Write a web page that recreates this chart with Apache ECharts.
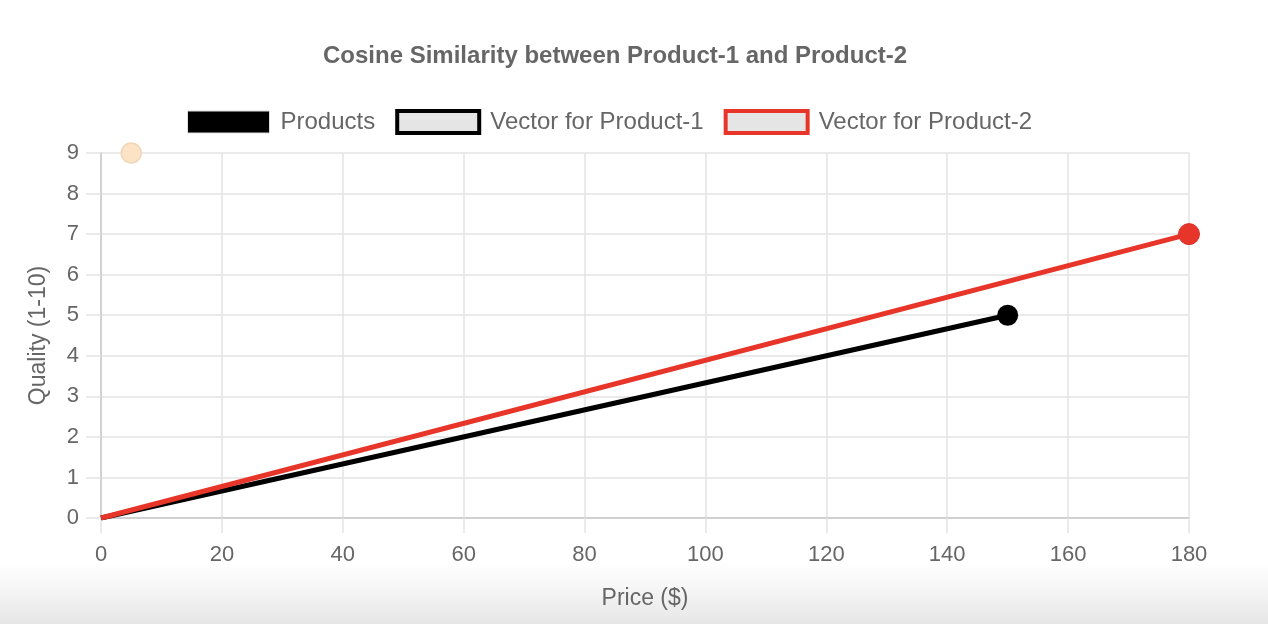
<!DOCTYPE html>
<html>
<head>
<meta charset="utf-8">
<script src="https://cdn.jsdelivr.net/npm/echarts@6/dist/echarts.min.js"></script>
<style>
  html, body { margin: 0; padding: 0; }
  body {
    width: 1268px; height: 624px; overflow: hidden;
    background: linear-gradient(to bottom, #fff 0, #fff 90%, #f4f4f4 95%, #e6e6e6 100%);
  }
  #main { width: 1268px; height: 624px; }
</style>
</head>
<body>
<div id="main"></div>
<script>
// 数据
var seriesNames = ['Products', 'Vector for Product-1', 'Vector for Product-2'];
var productPoints = [[5, 9]];
var vector1 = [[0, 0], [150, 5]];
var vector2 = [[0, 0], [180, 7]];

var font = '"Liberation Sans", Arial, Helvetica, sans-serif';
var gridColor = '#e3e3e3';

// 起点不画圆点
function endOnly(points) {
  return points.map(function (p, i) {
    return i === 0 ? { value: p, symbolSize: 0 } : { value: p };
  });
}

var myChart = echarts.init(document.getElementById('main'));

option = {
  animation: false,
  backgroundColor: 'transparent',
  textStyle: { fontFamily: font },
  title: {
    text: 'Cosine Similarity between Product-1 and Product-2',
    left: 318,
    top: 39,
    textStyle: {
      color: '#666',
      fontSize: 24,
      fontWeight: 'bold',
      fontFamily: font
    }
  },
  legend: {
    top: 104,
    left: 182,
    icon: 'rect',
    itemWidth: 82,
    itemHeight: 22,
    itemGap: 20,
    textStyle: {
      color: '#666',
      fontSize: 24,
      fontFamily: font,
      padding: [0, 0, 0, 6]
    },
    data: [{
      name: seriesNames[0],
      itemStyle: { color: '#000', borderColor: '#ddd', borderWidth: 1, opacity: 1 }
    }, {
      name: seriesNames[1],
      itemStyle: { color: '#e5e5e5', borderColor: '#000', borderWidth: 4, opacity: 1 }
    }, {
      name: seriesNames[2],
      itemStyle: { color: '#e5e5e5', borderColor: '#e8352a', borderWidth: 4, opacity: 1 }
    }]
  },
  grid: {
    left: 101,
    right: 79,
    top: 153,
    bottom: 106
  },
  xAxis: {
    type: 'value',
    min: 0,
    max: 180,
    interval: 20,
    name: 'Price ($)',
    nameLocation: 'middle',
    nameGap: 69,
    nameMoveOverlap: false,
    nameTextStyle: { color: '#666', fontSize: 23, fontFamily: font },
    axisLine: { show: true, lineStyle: { color: '#c8c8c8', width: 1.5 } },
    axisTick: { show: true, length: 15, lineStyle: { color: gridColor, width: 1.5 } },
    axisLabel: { color: '#666', fontSize: 22, margin: 26, fontFamily: font },
    splitLine: { lineStyle: { color: gridColor, width: 1.5 } }
  },
  yAxis: {
    type: 'value',
    min: 0,
    max: 9,
    interval: 1,
    name: 'Quality (1-10)',
    nameLocation: 'middle',
    nameGap: 51,
    nameMoveOverlap: false,
    nameTextStyle: { color: '#666', fontSize: 23, fontFamily: font },
    axisLine: { show: true, lineStyle: { color: '#c8c8c8', width: 1.5 } },
    axisTick: { show: true, length: 15, lineStyle: { color: gridColor, width: 1.5 } },
    axisLabel: { color: '#666', fontSize: 22, margin: 22, fontFamily: font },
    splitLine: { lineStyle: { color: gridColor, width: 1.5 } }
  },
  series: [{
    name: seriesNames[0],
    type: 'scatter',
    data: productPoints,
    symbolSize: 20,
    itemStyle: { color: '#fde3c6', borderColor: '#f0d6b6', borderWidth: 1.5, opacity: 1 }
  }, {
    name: seriesNames[1],
    type: 'line',
    data: endOnly(vector1),
    symbol: 'circle',
    symbolSize: 21,
    showAllSymbol: true,
    lineStyle: { color: '#000', width: 5 },
    itemStyle: { color: '#000', borderColor: '#000', borderWidth: 0 }
  }, {
    name: seriesNames[2],
    type: 'line',
    data: endOnly(vector2),
    symbol: 'circle',
    symbolSize: 21,
    showAllSymbol: true,
    lineStyle: { color: '#e8352a', width: 5 },
    itemStyle: { color: '#e8352a', borderColor: '#d8302a', borderWidth: 1 }
  }]
};

myChart.setOption(option);
</script>
</body>
</html>
